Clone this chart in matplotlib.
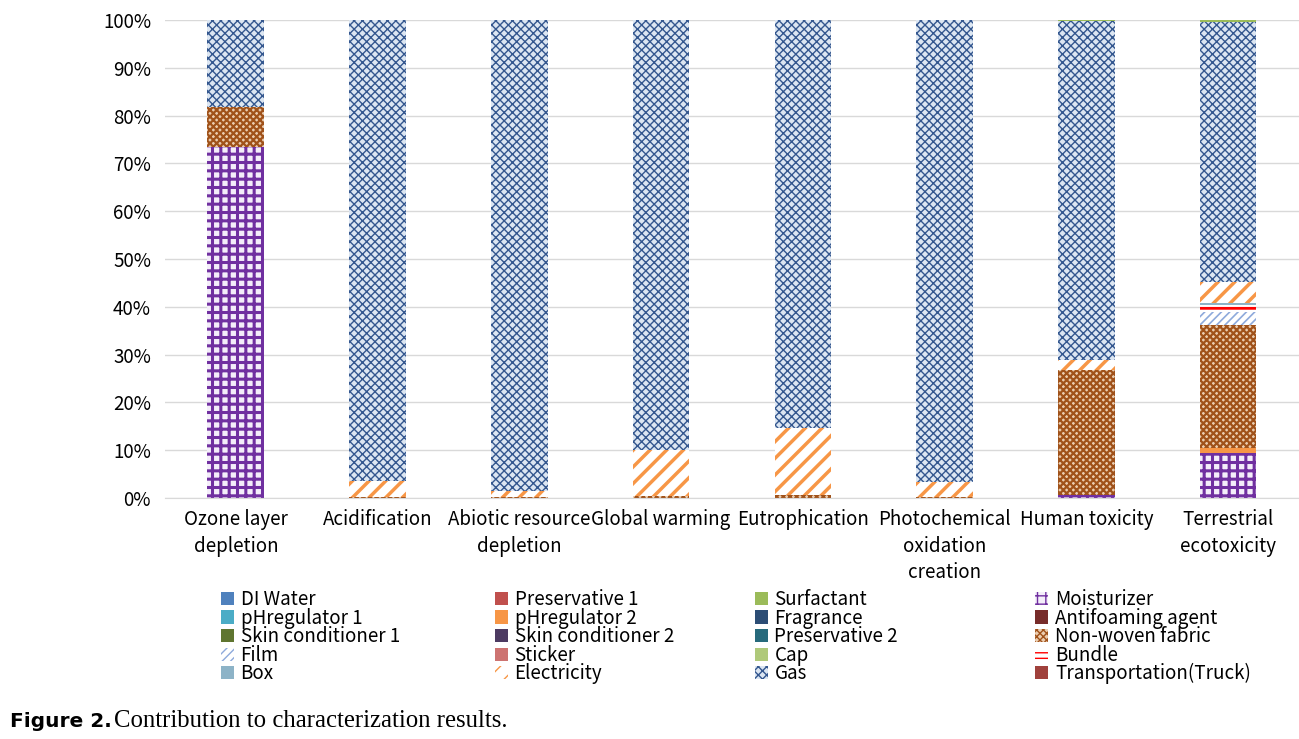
import numpy as np
import matplotlib.pyplot as plt
from matplotlib.ticker import FuncFormatter, MultipleLocator

plt.rcParams['font.family'] = ['Noto Sans CJK KR', 'DejaVu Sans']

categories = ["Ozone layer\ndepletion", "Acidification", "Abiotic resource\ndepletion",
              "Global warming", "Eutrophication", "Photochemical\noxidation\ncreation",
              "Human toxicity", "Terrestrial\necotoxicity"]

# contribution (%) per series, one value per category
di_water        = [0, 0, 0, 0, 0, 0, 0, 0]
preservative_1  = [0, 0, 0, 0, 0, 0, 0, 0]
surfactant      = [0, 0, 0, 0, 0, 0, 0.3, 0.4]
moisturizer     = [73.5, 0, 0, 0, 0, 0, 0.6, 9.4]
ph_regulator_1  = [0, 0, 0, 0, 0, 0, 0, 0]
ph_regulator_2  = [0, 0, 0, 0, 0, 0, 0, 1.0]
fragrance       = [0, 0, 0, 0, 0, 0, 0, 0]
antifoaming     = [0, 0, 0, 0, 0, 0, 0, 0]
skin_cond_1     = [0, 0, 0, 0, 0, 0, 0, 0]
skin_cond_2     = [0, 0, 0, 0, 0, 0, 0, 0]
preservative_2  = [0, 0, 0, 0, 0, 0, 0, 0]
non_woven       = [8.3, 0.3, 0.3, 0.4, 0.7, 0.3, 26.2, 25.8]
film            = [0, 0, 0, 0, 0, 0, 0, 2.7]
sticker         = [0, 0, 0, 0, 0, 0, 0, 0]
cap             = [0, 0, 0, 0, 0, 0, 0, 0]
bundle          = [0, 0, 0, 0, 0, 0, 0, 1.5]
box             = [0, 0, 0, 0, 0, 0, 0, 0.4]
electricity     = [0, 3.3, 1.2, 9.6, 13.9, 3.1, 2.1, 4.4]
gas             = [18.2, 96.4, 98.5, 90.0, 85.4, 96.6, 70.8, 54.4]
transportation  = [0, 0, 0, 0, 0, 0, 0, 0]

legend_names = ["DI Water", "Preservative 1", "Surfactant", "Moisturizer",
                "pHregulator 1", "pHregulator 2", "Fragrance", "Antifoaming agent",
                "Skin conditioner 1", "Skin conditioner 2", "Preservative 2", "Non-woven fabric",
                "Film", "Sticker", "Cap", "Bundle",
                "Box", "Electricity", "Gas", "Transportation(Truck)"]

series = {
    "DI Water": di_water, "Preservative 1": preservative_1, "Surfactant": surfactant,
    "Moisturizer": moisturizer, "pHregulator 1": ph_regulator_1, "pHregulator 2": ph_regulator_2,
    "Fragrance": fragrance, "Antifoaming agent": antifoaming, "Skin conditioner 1": skin_cond_1,
    "Skin conditioner 2": skin_cond_2, "Preservative 2": preservative_2,
    "Non-woven fabric": non_woven, "Film": film, "Sticker": sticker, "Cap": cap,
    "Bundle": bundle, "Box": box, "Electricity": electricity, "Gas": gas,
    "Transportation(Truck)": transportation,
}

# bottom -> top stacking
stack_order = ["DI Water", "Preservative 1", "Moisturizer", "pHregulator 1", "pHregulator 2",
               "Fragrance", "Antifoaming agent", "Skin conditioner 1", "Skin conditioner 2",
               "Preservative 2", "Non-woven fabric", "Film", "Sticker", "Cap", "Bundle", "Box",
               "Electricity", "Gas", "Transportation(Truck)", "Surfactant"]

# face, hatch color, hatch, hatch linewidth
styles = {
    "DI Water": ("#4F81BD", "#4F81BD", None, 1),
    "Preservative 1": ("#C0504D", "#C0504D", None, 1),
    "Surfactant": ("#9BBB59", "#9BBB59", None, 1),
    "Moisturizer": ("#F4EEFA", "#7030A0", "++", 2.2),
    "pHregulator 1": ("#4BACC6", "#4BACC6", None, 1),
    "pHregulator 2": ("#F79646", "#F79646", None, 1),
    "Fragrance": ("#2C4D75", "#2C4D75", None, 1),
    "Antifoaming agent": ("#772C2A", "#772C2A", None, 1),
    "Skin conditioner 1": ("#5F7530", "#5F7530", None, 1),
    "Skin conditioner 2": ("#4D3B62", "#4D3B62", None, 1),
    "Preservative 2": ("#276A7C", "#276A7C", None, 1),
    "Non-woven fabric": ("#EBCDB0", "#A0521A", "xxxxx", 1.6),
    "Film": ("#FFFFFF", "#8EAADB", "////", 1.2),
    "Sticker": ("#CD7371", "#CD7371", None, 1),
    "Cap": ("#AFC97A", "#AFC97A", None, 1),
    "Bundle": ("#FFFFFF", "#FF0000", "---", 2.0),
    "Box": ("#8DB3C7", "#8DB3C7", None, 1),
    "Electricity": ("#FFFFFF", "#F79646", "//", 2.5),
    "Gas": ("#DCE6F2", "#34578F", "xxxx", 1.0),
    "Transportation(Truck)": ("#A0413C", "#A0413C", None, 1),
}

fig = plt.figure(figsize=(12.99, 7.39), dpi=100)
ax = fig.add_axes([0.127, 0.326, 0.873, 0.647])

x = np.arange(len(categories))
bottom = np.zeros(len(categories))
handles = {}
for name in stack_order:
    vals = np.array(series[name], dtype=float)
    face, hcol, hatch, hlw = styles[name]
    with plt.rc_context({'hatch.linewidth': hlw}):
        bars = ax.bar(x, vals, 0.4, bottom=bottom, color=face, edgecolor=hcol,
                      hatch=hatch, linewidth=0, label=name, zorder=2)
        for p in bars.patches:
            try:
                p.set_hatch_linewidth(hlw)
            except AttributeError:
                pass
    handles[name] = bars
    bottom += vals

ax.set_ylim(0, 100)
ax.set_xlim(-0.5, len(categories) - 0.5)
ax.yaxis.set_major_locator(MultipleLocator(10))
ax.yaxis.set_major_formatter(FuncFormatter(lambda v, _: f"{v:.0f}%"))
ax.grid(axis='y', color='#D9D9D9', linewidth=1, zorder=0)
ax.set_axisbelow(True)
for s in ['top', 'right', 'left']:
    ax.spines[s].set_visible(False)
ax.spines['bottom'].set_color('#D9D9D9')
ax.tick_params(axis='both', length=0, labelsize=13.5, colors='#000000')
ax.tick_params(axis='y', pad=10)
ax.tick_params(axis='x', pad=8)
ax.set_xticks(x)
ax.set_xticklabels(categories, linespacing=1.35)

# legend: four separate columns laid out row-wise
col_x = [0.170, 0.381, 0.581, 0.797]
for j in range(4):
    names = [legend_names[i * 4 + j] for i in range(5)]
    fig.legend([handles[n] for n in names], names, loc='upper left',
               bbox_to_anchor=(col_x[j], 0.203), frameon=False, fontsize=13.5,
               handlelength=0.7, handleheight=0.7, handletextpad=0.35,
               labelspacing=-0.13, borderpad=0, borderaxespad=0)

fig.text(0.008, 0.016, "Figure 2.", fontsize=14.5, fontweight='bold',
         family=['DejaVu Sans'])
fig.text(0.088, 0.016, "Contribution to characterization results.", fontsize=17.8,
         family=['Liberation Serif', 'DejaVu Serif'])

fig.savefig("out.png", dpi=100)
